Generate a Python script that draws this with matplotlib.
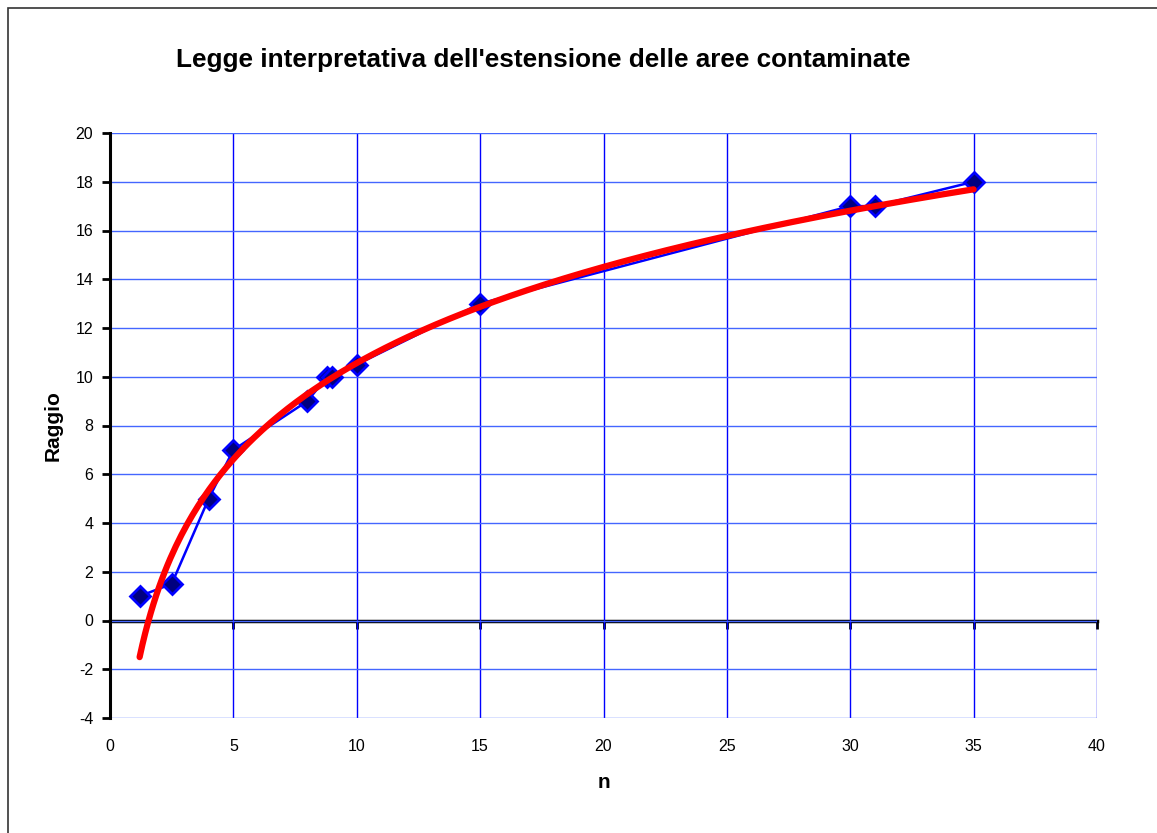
import matplotlib
matplotlib.use("Agg")
import matplotlib.pyplot as plt
import numpy as np
from matplotlib.patches import Rectangle

# measured points (n, raggio)
n_vals = [1.2, 2.5, 4, 5, 8, 8.8, 9, 10, 15, 30, 31, 35]
raggio = [1, 1.5, 5, 7, 9, 10, 10, 10.5, 13, 17, 17, 18]

# logarithmic trend line y = a*ln(n) + b, coefficients
trend_a = 5.69
trend_b = -2.54

x_ticks = [0, 5, 10, 15, 20, 25, 30, 35, 40]
y_ticks = [-4, -2, 0, 2, 4, 6, 8, 10, 12, 14, 16, 18, 20]

TITLE = "Legge interpretativa dell'estensione delle aree contaminate"

plt.rcParams["font.family"] = ["Liberation Sans", "DejaVu Sans"]
plt.rcParams["axes.unicode_minus"] = False

fig = plt.figure(figsize=(11.57, 8.33), dpi=100)
fig.patches.append(Rectangle((8 / 1157, -0.01), 1.2, 1 - 8 / 833 + 0.01,
                             transform=fig.transFigure, fill=False,
                             edgecolor="#333333", lw=1.2))

ax = fig.add_axes([110 / 1157, 1 - 718 / 833, 987 / 1157, 585 / 833])

xt = np.linspace(min(n_vals), max(n_vals), 300)
ax.plot(n_vals, raggio, color="#0000ff", lw=1.8, marker="D", ms=10.5,
        markerfacecolor="#000080", markeredgecolor="#0000ff", mew=2, zorder=3)
ax.plot(xt, trend_a * np.log(xt) + trend_b, color="#ff0000", lw=4.5,
        solid_capstyle="round", zorder=4)

ax.set_xlim(0, 40)
ax.set_ylim(-4, 20)
ax.set_xticks(x_ticks)
ax.set_yticks(y_ticks)
ax.xaxis.grid(True, color="#0000ff", lw=1)
ax.yaxis.grid(True, color="#4466ff", lw=1)
ax.set_axisbelow(True)

for s in ["top", "right", "bottom"]:
    ax.spines[s].set_visible(False)
ax.spines["left"].set_linewidth(2.2)
ax.tick_params(axis="x", length=0, pad=15, labelsize=11.5)
ax.tick_params(axis="y", length=6, width=2, direction="out", pad=6,
               labelsize=11.5)

# x axis line crosses at y = 0
sec = ax.secondary_xaxis(4 / 24)
sec.set_xticks(x_ticks)
sec.set_xticklabels([])
sec.spines["bottom"].set_linewidth(2.5)
sec.tick_params(length=6, width=2, direction="out")

ax.set_xlabel("n", fontsize=15, fontweight="bold", labelpad=14)
ax.set_ylabel("Raggio", fontsize=15, fontweight="bold", labelpad=9)
fig.text(543 / 1157, 1 - 67 / 833, TITLE, fontsize=18.8, fontweight="bold",
         ha="center", va="baseline")

fig.savefig("out.png", dpi=100)
